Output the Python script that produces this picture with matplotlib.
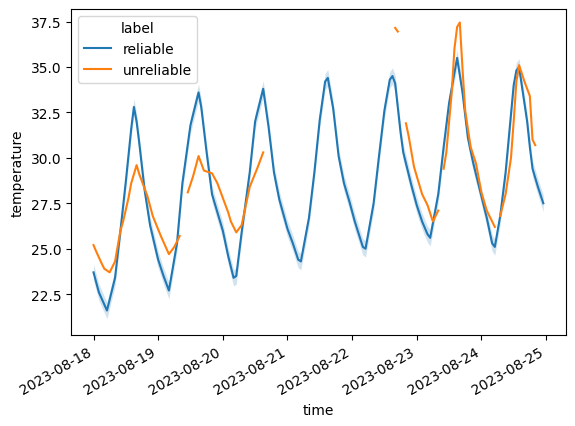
import numpy as np
import pandas as pd
import matplotlib
matplotlib.use("Agg")
import matplotlib.pyplot as plt
import matplotlib.dates as mdates
from matplotlib.ticker import MultipleLocator

start = pd.Timestamp("2023-08-18 00:00")

# reliable sensors: mean temperature (hours since start -> value)
rel_hours = [0, 2, 5, 8, 10, 12, 14, 15, 16, 17, 19, 21, 24, 26, 28,
             31, 33, 36, 39, 40, 42, 44, 46, 48, 50, 52, 53,
             55, 58, 60, 63, 65, 67, 69, 72, 74, 76, 77,
             80, 82, 84, 86, 87, 89, 91, 93, 95, 97, 100, 101,
             104, 106, 108, 110, 111, 112, 114, 115, 118, 120, 122, 124, 125,
             128, 130, 132, 135, 137, 139, 141, 143, 146, 148, 149,
             151, 153, 154, 156, 157, 158, 160, 161, 162, 163, 165, 167]
rel_temp = [23.7, 22.6, 21.6, 23.4, 26.0, 28.7, 31.6, 32.8, 32.0, 30.8, 28.2, 26.3, 24.4, 23.5, 22.7,
            25.3, 28.6, 31.8, 33.6, 32.8, 30.3, 28.0, 27.0, 26.0, 24.6, 23.4, 23.5,
            25.9, 29.2, 32.0, 33.8, 31.7, 29.2, 27.7, 26.1, 25.3, 24.4, 24.3,
            26.7, 29.2, 32.1, 34.2, 34.4, 32.7, 30.1, 28.6, 27.6, 26.5, 25.1, 25.0,
            27.5, 30.1, 32.6, 34.3, 34.5, 34.1, 31.4, 30.3, 28.5, 27.4, 26.5, 25.8, 25.6,
            28.0, 30.6, 33.0, 35.5, 33.6, 31.1, 29.7, 28.5, 26.7, 25.3, 25.1,
            26.8, 29.2, 30.8, 34.0, 34.8, 35.0, 33.0, 32.0, 30.6, 29.4, 28.4, 27.5]
rel_spread = 0.45  # half-width of the confidence band

# unreliable sensor (NaN = missing readings)
unrel_hours = [0, 1, 3, 4, 6, 8, 10, 11, 13, 14, 16, 17, 20, 22, 25, 28, 30, 32, 33,
               35, 37, 39, 41, 44, 46, 48, 50, 51, 53, 55, 58, 61, 63, 64,
               112, 113, 114,
               116, 117, 119, 122, 124, 126, 128, 129,
               130, 131, 133, 134, 135, 136, 137, 138, 140, 142, 144, 146, 149, 150,
               151, 153, 155, 156, 157, 158, 160, 161, 162, 163, 164]
unrel_temp = [25.2, 24.85, 24.2, 23.9, 23.7, 24.3, 26.0, 26.5, 27.8, 28.6, 29.6, 29.1, 27.9, 26.8, 25.7, 24.7, 25.1, 25.7, np.nan,
              28.1, 29.0, 30.1, 29.3, 29.15, 28.6, 27.8, 27.0, 26.5, 25.9, 26.3, 28.4, 29.5, 30.3, np.nan,
              37.15, 36.95, np.nan,
              31.9, 31.2, 29.5, 28.0, 27.4, 26.5, 27.1, np.nan,
              29.4, 30.3, 33.6, 36.0, 37.2, 37.45, 34.9, 32.6, 30.6, 29.7, 28.1, 27.1, 26.2, np.nan,
              26.8, 28.0, 30.0, 32.0, 34.2, 35.1, 34.2, 33.8, 33.4, 31.0, 30.7]

rel_time = start + pd.to_timedelta(rel_hours, unit="h")
unrel_time = start + pd.to_timedelta(unrel_hours, unit="h")
rel = np.array(rel_temp)

fig, ax = plt.subplots(figsize=(5.75, 4.27), dpi=100)
fig.subplots_adjust(left=0.1235, right=0.984, top=0.977, bottom=0.213)

ax.fill_between(rel_time, rel - rel_spread, rel + rel_spread, color="#1f77b4", alpha=0.2, linewidth=0)
ax.plot(rel_time, rel, color="#1f77b4", lw=1.5, label="reliable")
ax.plot(unrel_time, unrel_temp, color="#ff7f0e", lw=1.5, label="unreliable")

ax.set_ylim(20.25, 38.2)
ax.yaxis.set_major_locator(MultipleLocator(2.5))
ax.xaxis.set_major_locator(mdates.DayLocator())
ax.xaxis.set_major_formatter(mdates.DateFormatter("%Y-%m-%d"))
plt.setp(ax.get_xticklabels(), rotation=30, ha="right")
ax.set_xlabel("time")
ax.set_ylabel("temperature")
ax.legend(title="label", loc="upper left")

fig.savefig("out.png", dpi=100)
